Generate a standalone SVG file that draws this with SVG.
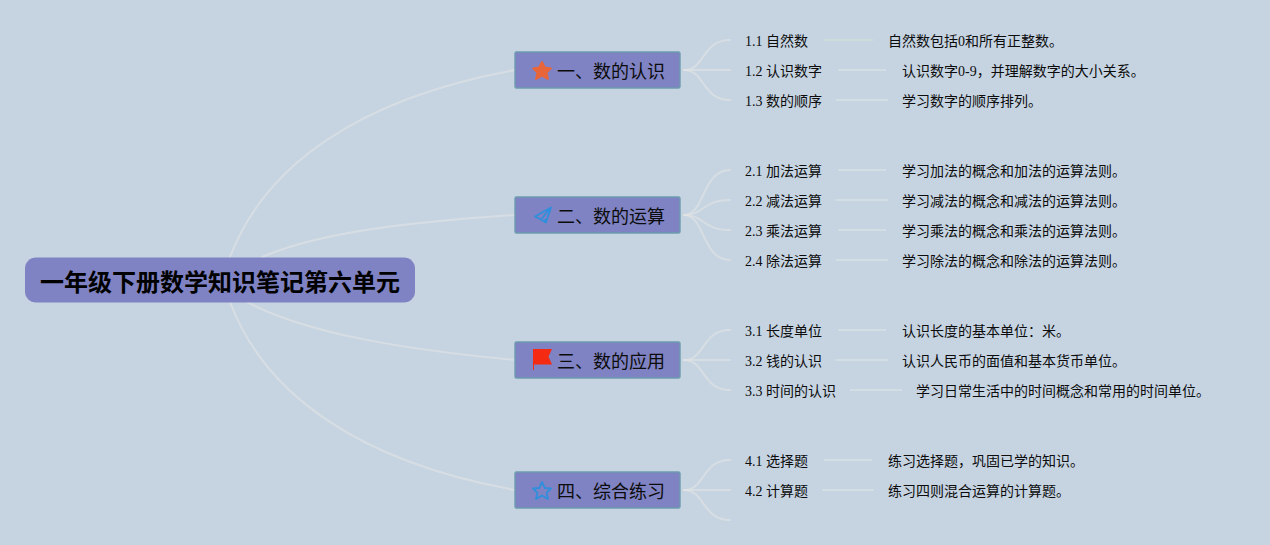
<svg xmlns="http://www.w3.org/2000/svg" width="1270" height="545" viewBox="0 0 1270 545">
<style>
text{font-family:"Liberation Serif","Noto Sans CJK SC",sans-serif;fill:#0c0c0c}
.c{fill:none;stroke:#e2e3e4;stroke-width:2;stroke-linecap:round;opacity:.62}
.l{fill:none;stroke:#dfe5e8;stroke-width:1.600;opacity:.8}
.b{fill:#7f83c3;stroke:#6c9cae;stroke-width:1.400}
.t{font-size:18px}
.s{font-size:14px}
</style>
<rect width="1270" height="545" fill="#c6d4e2"/>
<g id="connectors">
<path class="c" d="M230 257C265 165 360 98 515 70"/>
<path class="c" d="M262 257C320 232 410 222 515 215"/>
<path class="c" d="M247 302C310 335 410 350 515 360"/>
<path class="c" d="M230 302C265 395 360 462 515 490"/>
<path class="c" d="M684 70C705 70 702 40 730 40"/>
<path class="c" d="M684 70H730"/>
<path class="c" d="M684 70C705 70 702 100 730 100"/>
<path class="c" d="M684 215C705 215 702 170 730 170"/>
<path class="c" d="M684 215C705 215 702 200 730 200"/>
<path class="c" d="M684 215C705 215 702 230 730 230"/>
<path class="c" d="M684 215C705 215 702 260 730 260"/>
<path class="c" d="M684 360C705 360 702 330 730 330"/>
<path class="c" d="M684 360H730"/>
<path class="c" d="M684 360C705 360 702 390 730 390"/>
<path class="c" d="M684 490C705 490 702 460 730 460"/>
<path class="c" d="M684 490H730"/>
<path class="c" d="M684 490C705 490 702 520 730 520"/>
<path class="l" style="stroke:#d5e1da" d="M824 40H873"/>
<path class="l" d="M838 70H886"/>
<path class="l" d="M836 100H888"/>
<path class="l" d="M838 170H886"/>
<path class="l" d="M836 200H888"/>
<path class="l" d="M838 230H886"/>
<path class="l" d="M836 260H888"/>
<path class="l" d="M838 330H886"/>
<path class="l" d="M836 360H888"/>
<path class="l" d="M850 390H902"/>
<path class="l" d="M824 460H872"/>
<path class="l" d="M822 490H874"/>
</g>
<g id="root"><rect x="25" y="257.500" width="390" height="45" rx="11" fill="#7f83c3"/><text x="40" y="291" font-size="24" font-weight="700" style="font-family:'Noto Sans CJK SC',sans-serif;fill:#000" textLength="360">一年级下册数学知识笔记第六单元</text></g>
<g id="n1"><rect class="b" x="515" y="52" width="165" height="36" rx="1.500"/><polygon points="542,62 544.800,67.500 551,68.300 546.500,72.500 548,79 542,75.800 536,79 537.500,72.500 533,68.300 539.200,67.500" fill="#e8653a" stroke="#e8653a" stroke-width="1.800" stroke-linejoin="round"/><text class="t" x="557" y="78">一、数的认识</text></g>
<g id="n2"><rect class="b" x="515" y="197" width="165" height="36" rx="1.500"/><path d="M551 207.500L535 216.500L541 219.500L546 222.500L551 207.500ZM541 219.500L551 207.500M545 222V219" fill="none" stroke="#2f8fdc" stroke-width="1.800" stroke-linejoin="round"/><text class="t" x="557" y="223">二、数的运算</text></g>
<g id="n3"><rect class="b" x="515" y="342" width="165" height="36" rx="1.500"/><path d="M533 349H552L548.500 356.500L552 364.500H534V370H533Z" fill="#f52a12"/><text class="t" x="557" y="368">三、数的应用</text></g>
<g id="n4"><rect class="b" x="515" y="472" width="165" height="36" rx="1.500"/><polygon points="542,482 544.800,488 551,488.500 546.500,492.800 548,499 542,495.500 536,499 537.500,492.800 533,488.500 539.200,488" fill="none" stroke="#2f8fdc" stroke-width="1.800" stroke-linejoin="round"/><text class="t" x="557" y="498">四、综合练习</text></g>
<g id="t11"><text class="s" x="745" y="46">1.1 自然数</text><text class="s" x="888" y="46">自然数包括0和所有正整数。</text></g>
<g id="t12"><text class="s" x="745" y="76">1.2 认识数字</text><text class="s" x="902" y="76">认识数字0-9，并理解数字的大小关系。</text></g>
<g id="t13"><text class="s" x="745" y="106">1.3 数的顺序</text><text class="s" x="902" y="106">学习数字的顺序排列。</text></g>
<g id="t21"><text class="s" x="745" y="176">2.1 加法运算</text><text class="s" x="902" y="176">学习加法的概念和加法的运算法则。</text></g>
<g id="t22"><text class="s" x="745" y="206">2.2 减法运算</text><text class="s" x="902" y="206">学习减法的概念和减法的运算法则。</text></g>
<g id="t23"><text class="s" x="745" y="236">2.3 乘法运算</text><text class="s" x="902" y="236">学习乘法的概念和乘法的运算法则。</text></g>
<g id="t24"><text class="s" x="745" y="266">2.4 除法运算</text><text class="s" x="902" y="266">学习除法的概念和除法的运算法则。</text></g>
<g id="t31"><text class="s" x="745" y="336">3.1 长度单位</text><text class="s" x="902" y="336">认识长度的基本单位：米。</text></g>
<g id="t32"><text class="s" x="745" y="366">3.2 钱的认识</text><text class="s" x="902" y="366">认识人民币的面值和基本货币单位。</text></g>
<g id="t33"><text class="s" x="745" y="396">3.3 时间的认识</text><text class="s" x="916" y="396">学习日常生活中的时间概念和常用的时间单位。</text></g>
<g id="t41"><text class="s" x="745" y="466">4.1 选择题</text><text class="s" x="888" y="466">练习选择题，巩固已学的知识。</text></g>
<g id="t42"><text class="s" x="745" y="496">4.2 计算题</text><text class="s" x="888" y="496">练习四则混合运算的计算题。</text></g>
</svg>
